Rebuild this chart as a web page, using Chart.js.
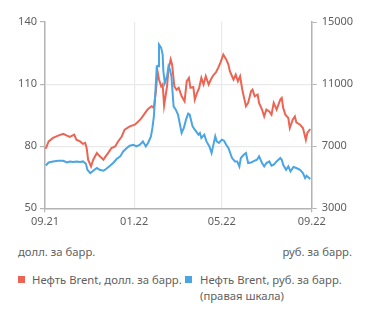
<!DOCTYPE html>
<html>
<head>
<meta charset="utf-8">
<script src="https://cdn.jsdelivr.net/npm/chart.js@4/dist/chart.umd.min.js"></script>
<style>
  html, body { margin:0; padding:0; background:#fff; }
  body { width:371px; height:315px; position:relative; overflow:hidden; font-family:"Noto Sans", sans-serif; color:#5f5f5f; }
  #wrap { position:absolute; left:0; top:0; width:371px; height:235px; }
  .t { position:absolute; font-size:11.3px; line-height:16px; white-space:nowrap; }
  .sq { position:absolute; width:7px; height:7px; }
</style>
</head>
<body>
<div id="wrap"><canvas id="c"></canvas></div>
<div class="t" style="left:18px; top:244px;">долл. за барр.</div>
<div class="t" style="right:19px; top:244px;">руб. за барр.</div>
<div class="sq" style="left:18px; top:276px; background:#EC6453;"></div>
<div class="t" style="left:32px; top:272px;">Нефть Brent, долл. за барр.</div>
<div class="sq" style="left:185px; top:276px; background:#4AA5E2;"></div>
<div class="t" style="left:200px; top:272px;">Нефть Brent, руб. за барр.<br>(правая шкала)</div>
<script>
// days since 2021-09-01
const tickDays = [0, 122, 242, 365];
const tickLabels = ['09.21', '01.22', '05.22', '09.22'];
const leftTicks = [50, 80, 110, 140];
const rightTicks = [3000, 7000, 11000, 15000];

const usdDays = [1,5,11,18,25,30,34,40,43,48,52,55,57,59,63,66,71,75,80,83,87,91,96,100,105,109,116,123,128,132,137,141,146,149,152,154,156,159,161,163,167,169,172,174,177,180,183,187,191,194,197,199,203,205,208,211,214,217,220,224,227,230,234,237,240,244,248,251,253,256,258,261,264,267,270,273,275,278,282,284,287,291,293,297,300,303,307,310,313,317,322,324,326,329,333,335,339,342,344,349,353,357,359,363];
const usdValues = [78.8,82.3,84.0,85.1,86.0,85.1,84.5,85.6,83.1,82.3,81.1,81.6,79.1,73.5,70.2,73.5,76.7,75.1,73.5,75.1,77.0,79.1,79.9,82.3,84.7,88.0,89.6,90.4,92.0,93.6,96.1,98.0,99.3,98.5,107.3,116.2,112.2,108.9,109.8,99.6,108.9,117.0,121.9,119.4,108.9,107.3,108.2,104.1,101.7,111.4,113.0,108.2,108.6,102.5,105.7,108.2,113.0,109.8,113.8,109.8,112.2,114.1,115.7,117.8,120.3,124.3,121.9,119.4,116.2,113.8,112.2,114.6,111.4,113.8,107.3,102.5,99.3,100.9,106.5,107.3,104.1,104.9,100.9,97.7,94.4,97.7,96.8,95.2,100.9,97.7,102.5,103.3,98.5,95.2,93.6,88.8,92.8,94.4,91.5,90.4,88.8,83.1,86.4,88.3];

const rubDays = [1,5,11,18,25,30,34,39,43,48,52,56,58,62,66,71,75,80,84,89,94,98,103,107,112,116,121,125,130,134,138,141,145,147,149,151,153,155,156,159,161,162,164,167,169,171,173,176,179,182,187,190,193,196,198,202,205,210,212,214,218,221,225,228,230,233,235,238,242,245,248,251,256,260,263,266,268,272,275,278,282,285,290,293,297,300,303,307,310,313,317,322,324,326,330,333,336,340,344,349,353,356,358,363];
const rubValues = [5761,5954,6019,6064,6064,5954,6019,5980,6019,5980,6019,5870,5483,5270,5419,5593,5483,5419,5548,5741,5954,6174,6341,6664,6883,7032,7096,6987,7096,7309,6987,7206,7632,8174,8922,10432,12148,12148,13548,13335,12903,11826,11077,11503,12148,11935,11503,9567,9355,9032,7851,8174,8709,9096,9032,8277,8064,7741,7851,7529,7741,7309,6987,6561,6987,7632,7309,7206,7419,7354,7096,6883,6238,6019,6019,5696,6238,6451,6561,5916,5954,6019,6128,6341,5916,5696,5916,6019,5741,5806,6019,6238,6128,5806,5483,5696,5374,5657,5593,5483,5270,4948,5096,4883];

const RED = '#EC6453', BLUE = '#4AA5E2';
const GRID = '#e9e9e9', AXIS = '#b4b4b4', TXT = '#5f5f5f';
const FONT = { family: '"Noto Sans", sans-serif', size: 11 };

new Chart(document.getElementById('c'), {
  type: 'line',
  data: {
    datasets: [
      { label: 'Нефть Brent, руб. за барр. (правая шкала)', data: rubDays.map((d,i)=>({x:d, y:rubValues[i]})), yAxisID: 'y2', borderColor: BLUE, borderWidth: 2, pointRadius: 0, tension: 0 },
      { label: 'Нефть Brent, долл. за барр.', data: usdDays.map((d,i)=>({x:d, y:usdValues[i]})), yAxisID: 'y', borderColor: RED, borderWidth: 2, pointRadius: 0, tension: 0 }
    ]
  },
  options: {
    responsive: true, maintainAspectRatio: false, animation: false,
    layout: { padding: { top: 22, left: 0, right: 0, bottom: 0 } },
    plugins: { legend: { display: false }, tooltip: { enabled: false } },
    scales: {
      x: {
        type: 'linear', min: 0, max: 365,
        afterBuildTicks: s => { s.ticks = tickDays.map(v => ({ value: v })); },
        afterFit: s => { s.height = 235 - 208.3; },
        ticks: { callback: (v) => tickLabels[tickDays.indexOf(v)], color: TXT, font: FONT, padding: 3, maxRotation: 0, autoSkip: false },
        grid: { color: GRID, lineWidth: 1.2, tickLength: 4, tickColor: ctx => (ctx.index === 0 || ctx.index === 3) ? AXIS : 'rgba(0,0,0,0)' },
        border: { color: AXIS, width: 1.5 }
      },
      y: {
        position: 'left', min: 50, max: 140,
        afterBuildTicks: s => { s.ticks = leftTicks.map(v => ({ value: v })); },
        afterFit: s => { s.width = 45; },
        ticks: { color: TXT, font: FONT, padding: 3, callback: v => String(v) },
        grid: { color: ctx => ctx.tick && ctx.tick.value === 140 ? 'rgba(0,0,0,0)' : GRID, lineWidth: 1.2, tickLength: 5, tickColor: AXIS },
        border: { color: AXIS, width: 1.5 }
      },
      y2: {
        position: 'right', min: 3000, max: 15000,
        afterBuildTicks: s => { s.ticks = rightTicks.map(v => ({ value: v })); },
        afterFit: s => { s.width = 371 - 311.7; },
        ticks: { color: TXT, font: FONT, padding: 5, callback: v => String(v) },
        grid: { drawOnChartArea: false, tickLength: 5, tickColor: AXIS },
        border: { color: AXIS, width: 1.5 }
      }
    }
  }
});
</script>
</body>
</html>
